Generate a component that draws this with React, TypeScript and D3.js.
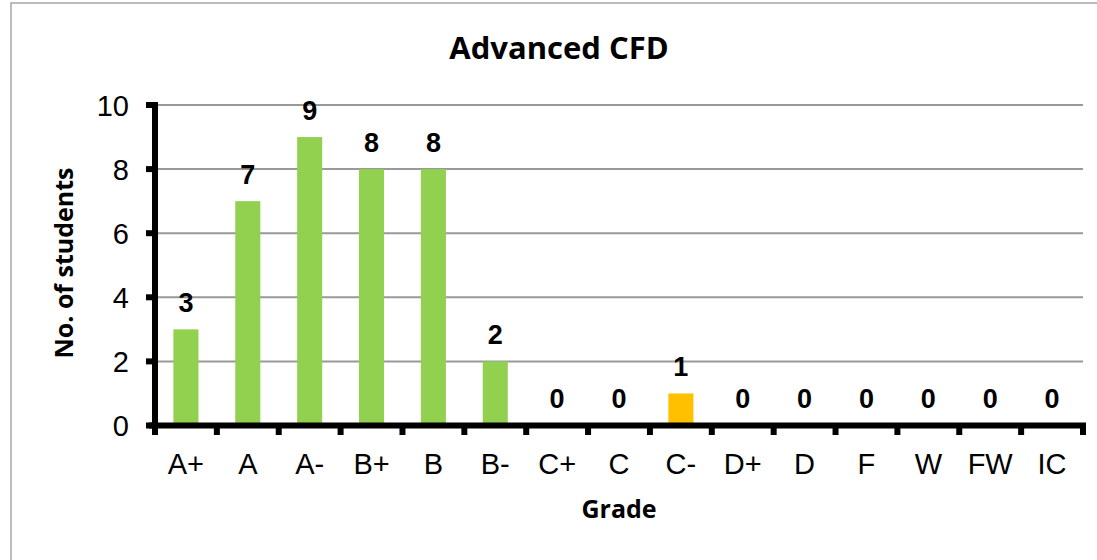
import * as d3 from 'd3';
import React from 'react';

const grades = ['A+', 'A', 'A-', 'B+', 'B', 'B-', 'C+', 'C', 'C-', 'D+', 'D', 'F', 'W', 'FW', 'IC'];
const students = [3, 7, 9, 8, 8, 2, 0, 0, 1, 0, 0, 0, 0, 0, 0];
const highlighted = ['C-'];
const yTicks = [0, 2, 4, 6, 8, 10];

const chartTitle = 'Advanced CFD';
const xTitle = 'Grade';
const yTitle = 'No. of students';

const green = '#92D050';
const orange = '#FFC000';
const labelFont = '"Liberation Sans", Arial, sans-serif';
const titleFont = '"Open Sans", sans-serif';

export default function App() {
  const width = 1097;
  const height = 560;
  const left = 155;
  const right = 1083;
  const top = 105;
  const bottom = 425.5;

  const x = d3.scaleBand<string>().domain(grades).range([left, right]).padding(0);
  const y = d3.scaleLinear().domain([0, 10]).range([bottom, top]);
  const barW = x.bandwidth() * 0.405;

  // boundaries between categories get the tick marks
  const bounds = grades.map((g) => x(g) as number).concat([right]);

  return (
    <svg width={width} height={height} style={{position: 'absolute', left: 0, top: 0, background: '#fff'}}>
      <rect x={11} y={3} width={1200} height={700} fill="#fff" stroke="#a6a6a6" strokeWidth={1.5} />

      <text x={559} y={59} textAnchor="middle" fontFamily={titleFont} fontWeight="bold" fontSize={31} fill="#000">
        {chartTitle}
      </text>

      {/* gridlines */}
      {yTicks.filter((t) => t > 0).map((t) => (
        <line key={t} x1={left} x2={right} y1={y(t)} y2={y(t)} stroke="#999" strokeWidth={2} />
      ))}

      {/* bars */}
      {grades.map((g, i) => {
        const cx = (x(g) as number) + x.bandwidth() / 2;
        return (
          <rect key={g} x={cx - barW / 2} y={y(students[i])} width={barW} height={bottom - y(students[i])}
                fill={highlighted.includes(g) ? orange : green} />
        );
      })}

      {/* data labels */}
      {grades.map((g, i) => {
        const cx = (x(g) as number) + x.bandwidth() / 2;
        return (
          <text key={g} x={cx} y={y(students[i]) - 17.5} textAnchor="middle" fontFamily={labelFont}
                fontWeight="bold" fontSize={27} fill="#000">
            {students[i]}
          </text>
        );
      })}

      {/* y axis */}
      <line x1={left} x2={left} y1={top - 3} y2={bottom + 9.5} stroke="#000" strokeWidth={6} />
      {yTicks.map((t) => (
        <g key={t}>
          <line x1={left - 9} x2={left} y1={y(t)} y2={y(t)} stroke="#000" strokeWidth={6} />
          <text x={129} y={y(t) + 10.5} textAnchor="end" fontFamily={labelFont} fontSize={29} fill="#000">
            {t}
          </text>
        </g>
      ))}

      {/* x axis */}
      <line x1={left - 6} x2={right + 3} y1={bottom} y2={bottom} stroke="#000" strokeWidth={6} />
      {bounds.map((b, i) => (
        <line key={i} x1={b} x2={b} y1={bottom} y2={bottom + 9.5} stroke="#000" strokeWidth={6} />
      ))}
      {grades.map((g) => (
        <text key={g} x={(x(g) as number) + x.bandwidth() / 2} y={474} textAnchor="middle"
              fontFamily={labelFont} fontSize={29} fill="#000">
          {g}
        </text>
      ))}

      <text x={619} y={518} textAnchor="middle" fontFamily={titleFont} fontWeight="bold" fontSize={25} fill="#000">
        {xTitle}
      </text>
      <text transform={`translate(73, 263) rotate(-90)`} textAnchor="middle" fontFamily={titleFont}
            fontWeight="bold" fontSize={25} fill="#000">
        {yTitle}
      </text>
    </svg>
  );
}
